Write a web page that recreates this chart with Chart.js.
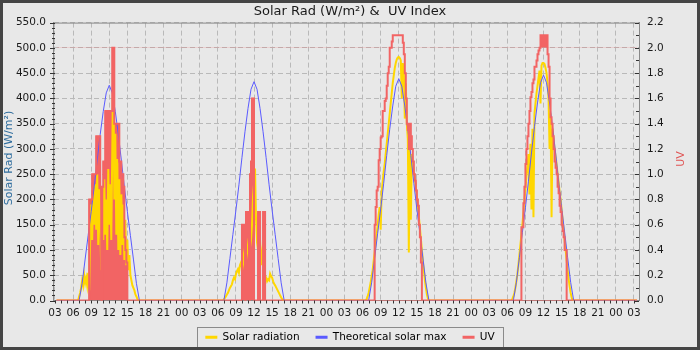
<!DOCTYPE html>
<html>
<head>
<meta charset="utf-8">
<script src="https://cdn.jsdelivr.net/npm/chart.js@4"></script>
<style>
  html, body { margin: 0; padding: 0; background: #e8e8e8; }
  #wrap { width: 700px; height: 350px; }
</style>
</head>
<body>
<div id="wrap"><canvas id="solarChart" width="700" height="350"></canvas></div>
<script>
// hours counted from midnight at the start of the first day
const dayStarts = [0, 24, 48, 72];
const dataSpan = [3.25, 99.5];

// theoretical max, every half hour 07:00 - 17:00
const clearHours = [7, 7.5, 8, 8.5, 9, 9.5, 10, 10.5, 11, 11.5, 12, 12.5, 13, 13.5, 14, 14.5, 15, 15.5, 16, 16.5, 17];
const clearDay1 = [0, 34, 82, 129, 176, 225, 278, 329, 374, 411, 426, 411, 374, 329, 278, 225, 176, 129, 82, 34, 0];
const clearDay2 = [0, 35, 83, 131, 179, 229, 283, 334, 380, 418, 433, 418, 380, 334, 283, 229, 179, 131, 83, 35, 0];
const clearDay3 = [0, 35, 84, 133, 181, 232, 287, 339, 385, 424, 439, 424, 385, 339, 287, 232, 181, 133, 84, 35, 0];
const clearDay4 = [0, 36, 85, 135, 184, 236, 292, 344, 391, 431, 446, 431, 391, 344, 292, 236, 184, 135, 85, 36, 0];

// station readings every 10 minutes, 06:30 - 17:00 (minutes after midnight)
const sunMinutes = [390, 400, 410,
  420, 430, 440, 450, 460, 470,
  480, 490, 500, 510, 520, 530,
  540, 550, 560, 570, 580, 590,
  600, 610, 620, 630, 640, 650,
  660, 670, 680, 690, 700, 710,
  720, 730, 740, 750, 760, 770,
  780, 790, 800, 810, 820, 830,
  840, 850, 860, 870, 880, 890,
  900, 910, 920, 930, 940, 950,
  960, 970, 980, 990, 1000, 1010,
  1020];

const solarDay1 = [0, 0, 0,
  8, 15, 25, 40, 30, 50,
  35, 45, 30, 55, 20, 120,
  190, 120, 210, 150, 230, 140,
  250, 110, 220, 160, 60, 180,
  120, 240, 130, 200, 100, 260,
  150, 230, 120, 300, 480, 200,
  330, 130, 280, 100, 240, 90,
  210, 110, 190, 80, 160, 70,
  120, 60, 90, 50, 40, 30,
  25, 20, 12, 8, 3, 0,
  0];
const solarDay2 = [0, 0, 0,
  2, 5, 8, 12, 15, 20,
  25, 28, 32, 40, 45, 42,
  52, 58, 62, 55, 70, 75,
  65, 90, 75, 100, 80, 95,
  110, 90, 105, 120, 150, 205,
  230, 261, 160, 115, 100, 85,
  120, 70, 90, 112, 60, 50,
  45, 38, 42, 40, 53, 48,
  45, 38, 33, 30, 26, 22,
  18, 14, 10, 6, 3, 0,
  0];
const solarDay3 = [0, 3, 8,
  15, 25, 35, 48, 60, 78,
  95, 115, 130, 150, 170, 185,
  140, 215, 235, 255, 270, 290,
  310, 330, 350, 370, 390, 410,
  430, 445, 460, 470, 477, 481,
  482, 480, 475, 400, 470, 455,
  360, 430, 350, 320, 95, 300,
  160, 290, 270, 255, 240, 225,
  205, 185, 165, 145, 122, 100,
  78, 58, 40, 25, 12, 4,
  0];
const solarDay4 = [0, 0, 3,
  8, 15, 25, 38, 52, 70,
  90, 110, 130, 150, 175, 200,
  220, 245, 265, 290, 210, 310,
  180, 340, 165, 370, 390, 410,
  425, 440, 455, 390, 465, 470,
  470, 468, 460, 450, 430, 400,
  300, 370, 165, 340, 320, 300,
  285, 270, 250, 235, 215, 200,
  180, 160, 140, 120, 100, 80,
  60, 42, 28, 15, 6, 0,
  0];

const uvDay1 = [0, 0, 0,
  0, 0, 0, 0, 0, 0,
  0, 0, 0, 0, 0.8, 0.8,
  0.8, 1.0, 1.0, 1.0, 1.0, 1.3,
  1.3, 1.3, 1.3, 0.9, 0, 0.9,
  1.1, 1.1, 1.5, 1.5, 1.5, 1.5,
  1.5, 1.5, 1.5, 2.0, 2.0, 1.4,
  1.4, 1.4, 1.4, 1.4, 1.1, 1.1,
  1.0, 1.0, 0.9, 0.5, 0.4, 0.3,
  0, 0, 0, 0, 0, 0,
  0, 0, 0, 0, 0, 0,
  0];
const uvDay2 = [0, 0, 0,
  0, 0, 0, 0, 0, 0,
  0, 0, 0, 0, 0, 0,
  0, 0, 0, 0, 0, 0,
  0.6, 0.6, 0.6, 0, 0.7, 0.7,
  0.7, 0, 1.0, 1.1, 1.6, 1.6,
  0, 0, 0, 0, 0.7, 0.7,
  0, 0, 0, 0.7, 0.7, 0,
  0, 0, 0, 0, 0, 0,
  0, 0, 0, 0, 0, 0,
  0, 0, 0, 0, 0, 0,
  0];
const uvDay3 = [0, 0, 0,
  0, 0, 0, 0, 0, 0,
  0.6, 0.74, 0.87, 0.9, 1.11, 1.2,
  1.29, 1.3, 1.5, 1.5, 1.58, 1.6,
  1.7, 1.8, 1.85, 2.0, 2.0, 2.05,
  2.1, 2.1, 2.1, 2.1, 2.1, 2.1,
  2.1, 2.1, 2.1, 2.1, 2.04, 1.95,
  1.8, 1.6, 1.4, 1.35, 1.2, 1.4,
  1.3, 1.2, 1.1, 1.0, 0.95, 0.87,
  0.8, 0.75, 0.6, 0.5, 0.3, 0,
  0, 0, 0, 0, 0, 0,
  0];
const uvDay4 = [0, 0, 0,
  0, 0, 0, 0, 0, 0,
  0, 0, 0.58, 0.58, 0.77, 0.9,
  1.08, 1.2, 1.3, 1.4, 1.5, 1.61,
  1.65, 1.72, 1.75, 1.85, 1.85, 1.9,
  1.95, 1.98, 2.0, 2.1, 2.1, 2.1,
  2.1, 2.1, 2.1, 2.1, 1.95, 1.85,
  1.6, 1.45, 1.4, 1.3, 1.2, 1.1,
  1.05, 1.0, 0.9, 0.85, 0.75, 0.7,
  0.6, 0.55, 0.5, 0.4, 0.4, 0,
  0, 0, 0, 0, 0, 0,
  0];

// level the last day's readings flickered above around noon
const uvFlickerLevel = 2.0;

const seriesNames = ['Solar radiation', 'Theoretical solar max', 'UV'];
const colors = { solar: '#ffd700', clear: '#5a5aff', uv: '#f26464' };

function buildPoints(hours, days, starts = dayStarts) {
  const pts = [{ x: dataSpan[0], y: 0 }];
  days.forEach((vals, d) => {
    hours.forEach((h, i) => pts.push({ x: starts[d] + h, y: vals[i] }));
  });
  pts.push({ x: dataSpan[1], y: 0 });
  return pts;
}

const sunHours = sunMinutes.map(m => m / 60);

const FONT = 'DejaVu Sans';
const plotLeft = 53, plotRightGap = 61;

// background, frame, top border, minor ticks, axis titles and the legend box
const framePlugin = {
  id: 'frame',
  beforeDraw(chart) {
    const ctx = chart.ctx;
    ctx.save();
    ctx.fillStyle = '#e8e8e8';
    ctx.fillRect(0, 0, chart.width, chart.height);
    ctx.restore();
  },
  afterDraw(chart) {
    const { ctx, chartArea: a, scales } = chart;
    ctx.save();
    ctx.strokeStyle = '#888';
    ctx.lineWidth = 1;
    ctx.beginPath();
    ctx.moveTo(a.left, a.top + 0.5);
    ctx.lineTo(a.right, a.top + 0.5);
    ctx.stroke();

    ctx.strokeStyle = '#333';
    ctx.beginPath();
    const x = scales.x;
    for (let h = Math.ceil(x.min); h <= x.max; h++) {
      const px = Math.round(x.getPixelForValue(h)) + 0.5;
      ctx.moveTo(px, a.bottom);
      ctx.lineTo(px, a.bottom + 3);
    }
    const yl = scales.y;
    for (let v = 0; v <= 550; v += 10) {
      const py = Math.round(yl.getPixelForValue(v)) + 0.5;
      ctx.moveTo(v % 50 === 0 ? a.left - 3 : a.left - 1, py);
      ctx.lineTo(a.left + 2, py);
    }
    const yr = scales.yUV;
    for (let i = 0; i <= 22; i++) {
      const py = Math.round(yr.getPixelForValue(i / 10)) + 0.5;
      ctx.moveTo(i % 2 === 0 ? a.right - 4 : a.right - 3, py);
      ctx.lineTo(a.right, py);
    }
    ctx.stroke();

    // axis titles, both reading bottom to top
    ctx.font = '11px "' + FONT + '"';
    ctx.textAlign = 'center';
    ctx.textBaseline = 'middle';
    ctx.save();
    ctx.translate(9.5, 158);
    ctx.rotate(-Math.PI / 2);
    ctx.fillStyle = '#2f6d9e';
    ctx.fillText('Solar Rad (W/m²)', 0, 0);
    ctx.restore();
    ctx.save();
    ctx.translate(681, 159);
    ctx.rotate(-Math.PI / 2);
    ctx.fillStyle = '#e05555';
    ctx.fillText('UV', 0, 0);
    ctx.restore();

    const boxes = chart.legend.legendHitBoxes;
    if (boxes.length) {
      const first = boxes[0], last = boxes[boxes.length - 1];
      const cy = first.top + first.height / 2;
      ctx.strokeStyle = '#8a8a8a';
      ctx.lineWidth = 1;
      ctx.strokeRect(Math.round(first.left - 8) + 0.5, Math.round(cy - 10) + 0.5,
        Math.round(last.left + last.width - first.left + 17), 20);
    }

    ctx.strokeStyle = '#444';
    ctx.lineWidth = 3;
    ctx.strokeRect(1.5, 1.5, chart.width - 3, chart.height - 3);
    ctx.restore();
  }
};

const ctx = document.getElementById('solarChart').getContext('2d');
new Chart(ctx, {
  type: 'line',
  data: {
    datasets: [
      {
        label: seriesNames[2],
        data: buildPoints(sunHours, [uvDay1, uvDay2, uvDay3, uvDay4]),
        yAxisID: 'yUV',
        borderColor: colors.uv,
        backgroundColor: colors.uv,
        borderWidth: 2,
        stepped: true,
        fill: false
      },
      {
        label: seriesNames[1],
        data: buildPoints(clearHours, [clearDay1, clearDay2, clearDay3, clearDay4]),
        yAxisID: 'y',
        borderColor: colors.clear,
        backgroundColor: colors.clear,
        borderWidth: 1,
        fill: false
      },
      {
        label: seriesNames[0],
        data: buildPoints(sunHours, [solarDay1, solarDay2, solarDay3, solarDay4]),
        yAxisID: 'y',
        borderColor: colors.solar,
        backgroundColor: colors.solar,
        borderWidth: 2,
        fill: false
      },
      {
        // noon flicker on the last day
        label: 'uv-top',
        data: buildPoints(sunHours, [uvDay4], [dayStarts[3]]),
        yAxisID: 'yUV',
        borderColor: colors.uv,
        borderWidth: 0,
        stepped: true,
        fill: { target: { value: uvFlickerLevel }, above: colors.uv, below: 'rgba(0,0,0,0)' }
      },
      {
        // dense on/off readings on the first two days
        label: 'uv-dense',
        data: buildPoints(sunHours, [uvDay1, uvDay2]),
        yAxisID: 'yUV',
        borderColor: colors.uv,
        backgroundColor: colors.uv,
        borderWidth: 1,
        stepped: true,
        fill: 'origin'
      }
    ]
  },
  options: {
    responsive: false,
    animation: false,
    elements: { point: { radius: 0 }, line: { tension: 0 } },
    layout: { padding: { left: 0, right: 0, top: 0, bottom: -2.5 } },
    plugins: {
      tooltip: { enabled: false },
      title: {
        display: true,
        text: 'Solar Rad (W/m²) &  UV Index',
        color: '#1a1a1a',
        font: { family: FONT, size: 13, weight: 'normal' },
        padding: { top: 4, bottom: 3 }
      },
      legend: {
        position: 'bottom',
        labels: {
          font: { family: FONT, size: 10.5 },
          color: '#1a1a1a',
          boxWidth: 12,
          boxHeight: 3,
          padding: 16,
          generateLabels(chart) {
            const byName = {};
            chart.data.datasets.forEach((ds, i) => { byName[ds.label] = i; });
            return seriesNames.map(name => ({
              text: name,
              datasetIndex: byName[name],
              fillStyle: chart.data.datasets[byName[name]].borderColor,
              strokeStyle: chart.data.datasets[byName[name]].borderColor,
              lineWidth: 0,
              hidden: false
            }));
          }
        }
      }
    },
    scales: {
      x: {
        type: 'linear',
        min: 2.67,
        max: 99.83,
        afterBuildTicks(scale) {
          const ticks = [];
          for (let h = 3; h <= 99; h += 3) ticks.push({ value: h });
          scale.ticks = ticks;
        },
        afterFit(scale) { scale.height = 15.5; },
        ticks: {
          autoSkip: false,
          maxRotation: 0,
          padding: 6,
          color: '#1a1a1a',
          font: { family: FONT, size: 10.5 },
          callback: v => String(v % 24).padStart(2, '0')
        },
        grid: { color: '#b9b9b9', drawTicks: false },
        border: { color: '#888', dash: [5, 3] }
      },
      y: {
        position: 'left',
        min: 0,
        max: 550,
        afterFit(scale) { scale.width = plotLeft; },
        ticks: {
          stepSize: 50,
          padding: 7,
          color: '#1a1a1a',
          font: { family: FONT, size: 10.5 },
          callback: v => v.toFixed(1)
        },
        grid: { color: '#b9b9b9', drawTicks: false },
        border: { color: '#888', dash: [5, 3] }
      },
      yUV: {
        position: 'right',
        min: 0,
        max: 2.2,
        afterFit(scale) { scale.width = plotRightGap; },
        ticks: {
          stepSize: 0.2,
          padding: 8,
          color: '#1a1a1a',
          font: { family: FONT, size: 10.5 },
          callback: v => v.toFixed(1)
        },
        grid: { drawOnChartArea: false, drawTicks: false },
        border: { color: '#888' }
      }
    }
  },
  plugins: [framePlugin]
});
</script>
</body>
</html>
